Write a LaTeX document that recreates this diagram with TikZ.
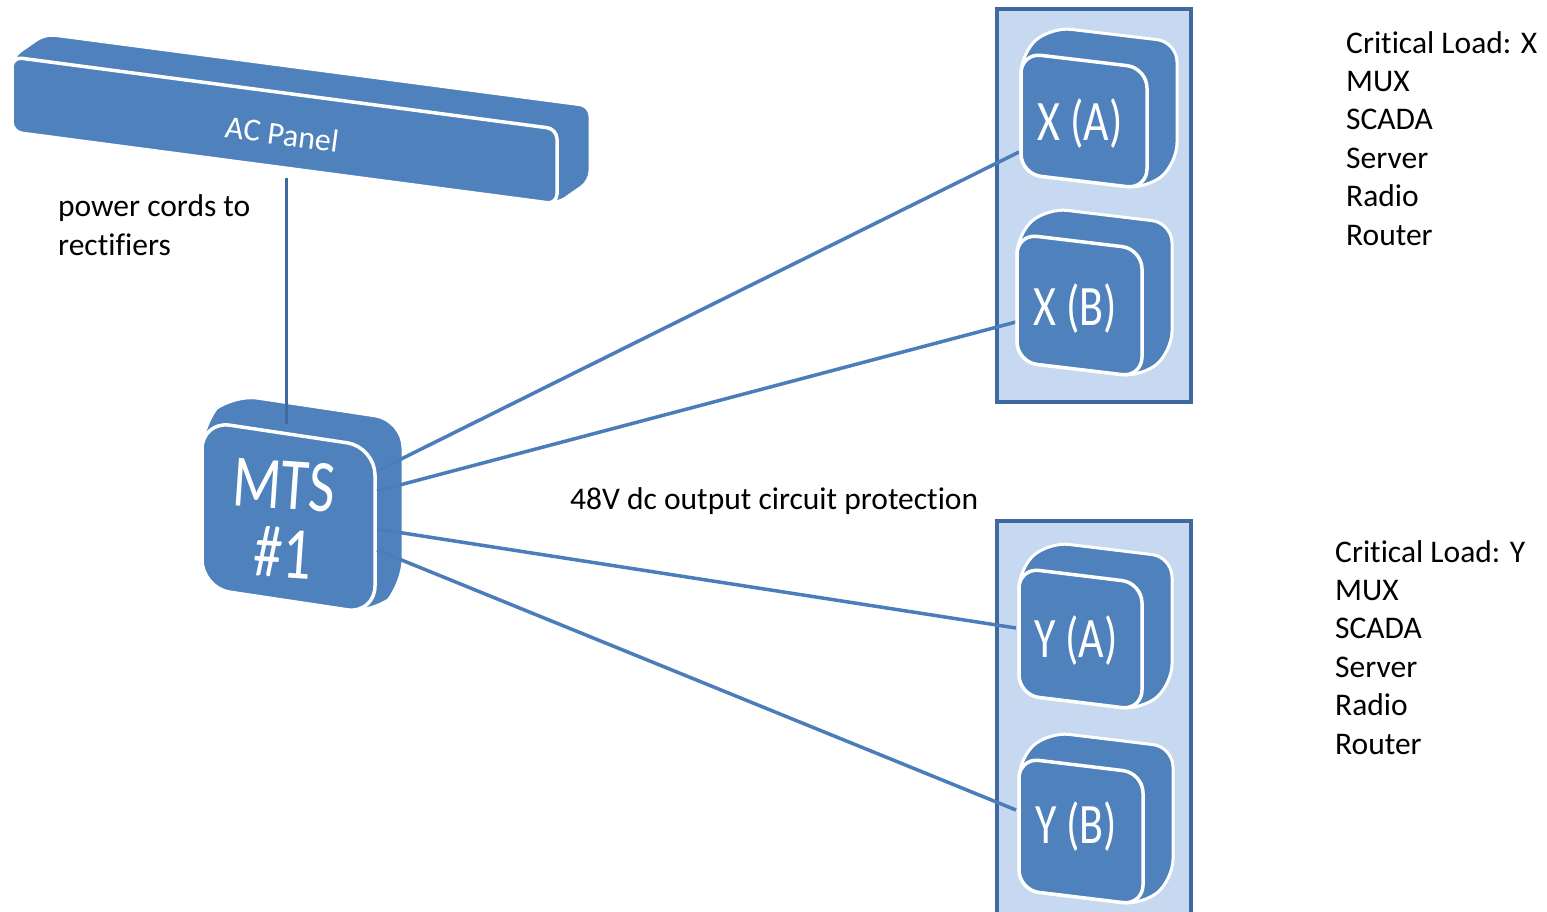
\documentclass[tikz,border=0pt]{standalone}
\usepackage{fontspec}
\setmainfont{Carlito}[Ligatures=NoCommon]
\definecolor{boxblue}{HTML}{4F81BD}
\definecolor{panelfill}{HTML}{C6D9F1}
\definecolor{panelline}{HTML}{3F6A9F}
\definecolor{wireblue}{HTML}{4A7DBA}
% #1,#2 front top-left; #3 width; #4 height; #5 drop of right side; #6 radius; #7,#8 depth offset
\newcommand\solidbox[8]{%
  \filldraw[boxblue, draw=white, line width=3pt, rounded corners=#6]
    (#1,#2) -- ({#1+#7},{#2+#8}) -- ({#1+#3+#7},{#2+#5+#8}) -- ({#1+#3+#7},{#2+#5+#4+#8})
    -- ({#1+#3},{#2+#5+#4}) -- (#1,{#2+#4}) -- cycle;
  \filldraw[boxblue, draw=white, line width=3.5pt, rounded corners=#6]
    (#1,#2) -- ({#1+#3},{#2+#5}) -- ({#1+#3},{#2+#5+#4}) -- (#1,{#2+#4}) -- cycle;
}
\tikzset{
  txt/.style={font=\fontsize{31.5}{38.4}\selectfont, inner sep=0pt, anchor=base west, align=left, text=black},
  boxlabel/.style={font=\fontsize{44}{44}\selectfont, text=white, inner sep=0pt},
  mtslabel/.style={font=\fontsize{57}{57}\selectfont, text=white, inner sep=0pt, rotate=-4},
  wire/.style={draw=wireblue, line width=3.5pt},
  feed/.style={draw=panelline, line width=3pt},
  rack/.style={fill=panelfill, draw=panelline, line width=4pt}
}
\begin{document}
\begin{tikzpicture}[x=1pt, y=-1pt]
\clip (0,0) rectangle (1547,911);
\fill[white] (0,0) rectangle (1547,911);

% racks
\draw[rack] (997,9) rectangle (1191,402);
\draw[rack] (997,521) rectangle (1191,930);

% AC panel
\solidbox{12}{57}{545}{75}{72}{10pt}{33}{-23}
\node[font=\fontsize{32}{32}\selectfont, text=white, rotate=-7.5] (acl) at (282,134) {AC Panel};

% MTS
\solidbox{202}{421}{173}{167}{26}{28pt}{28}{-27}
\node[mtslabel] (mtsa) at (284,485) {\scalebox{1}[1.3]{MTS}};
\node[mtslabel] (mtsb) at (283,553) {\scalebox{1}[1.3]{\#1}};

% connector end points
\coordinate (acout) at (286,178);
\coordinate (mtsin) at (286,424);
\coordinate (mo1) at (377,471);
\coordinate (mo2) at (377,491);
\coordinate (mo3) at (377,529);
\coordinate (mo4) at (377,550);
\coordinate (xain) at (1019,152);
\coordinate (xbin) at (1016,322);
\coordinate (yain) at (1016,628);
\coordinate (ybin) at (1016,810);

\draw[feed] (acout) -- (mtsin);
\draw[wire] (mo1) -- (xain);
\draw[wire] (mo2) -- (xbin);
\draw[wire] (mo3) -- (yain);
\draw[wire] (mo4) -- (ybin);

% loads
\solidbox{1021}{53}{126}{121}{15}{20pt}{30}{-26}
\node[boxlabel] (xa) at (1080,124) {\scalebox{1}[1.3]{X (A)}};
\solidbox{1017}{234}{125}{128}{15}{20pt}{30}{-26}
\node[boxlabel] (xb) at (1075,309) {\scalebox{1}[1.3]{X (B)}};
\solidbox{1019}{568}{123}{127}{15}{20pt}{30}{-26}
\node[boxlabel] (ya) at (1076,641) {\scalebox{1}[1.3]{Y (A)}};
\solidbox{1019}{758}{124}{132}{15}{20pt}{30}{-26}
\node[boxlabel] (yb) at (1076,827) {\scalebox{1}[1.3]{Y (B)}};

% texts (multi-line nodes are anchored at the baseline of their last line)
\node[txt] (pc) at (58,255) {power cords to\\rectifiers};
\node[txt] (dc) at (570,509) {48V dc output circuit protection};
\node[txt] (clx) at (1346,245) {Critical Load: X\\MUX\\SCADA\\Server\\Radio\\Router};
\node[txt] (cly) at (1335,754) {Critical Load: Y\\MUX\\SCADA\\Server\\Radio\\Router};
\end{tikzpicture}
\end{document}
